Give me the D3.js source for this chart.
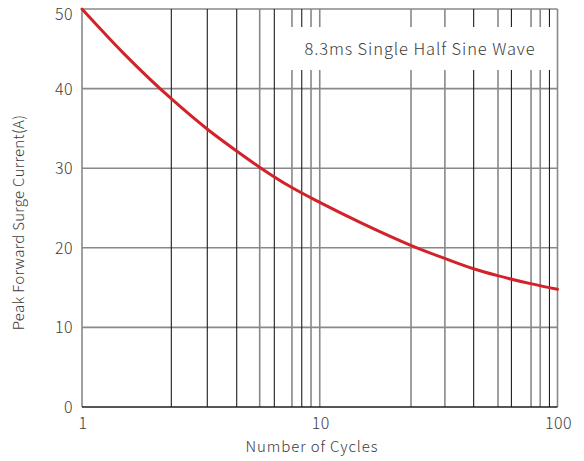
<!DOCTYPE html>
<html>
<head>
<meta charset="utf-8">
<script src="https://cdn.jsdelivr.net/npm/d3@7"></script>
<style>
  html, body { margin: 0; padding: 0; background: #fff; }
  svg { display: block; font-family: "Noto Sans CJK SC", "Noto Sans", sans-serif; }
</style>
</head>
<body>
<svg id="chart" width="584" height="461"></svg>
<script>
// Surge current derating curve (log x axis)
const cycles  = [1, 1.5, 2.4, 3.4, 4.5, 5.6, 7.6, 10, 15, 24, 34, 44, 56, 77, 100];
const current = [50, 44.4, 38.6, 34.8, 32.1, 30.1, 27.6, 25.7, 23.1, 20.35, 18.6, 17.4, 16.5, 15.5, 14.8];

// Vertical grid positions and their stroke tone ("d" dark, "g" gray)
const gridX     = [2.375, 3.365, 4.474, 5.59, 6.44, 7.64, 8.40, 9.19, 10, 24.2, 33.6, 44.4, 56.2, 64.0, 77.4, 84.6, 92.5];
const gridTone  = ["d", "d", "d", "g", "d", "g", "d", "g", "g", "g", "g", "d", "g", "d", "g", "g", "d"];
const yTicks    = [0, 10, 20, 30, 40, 50];
const xTicks    = [1, 10, 100];

const svg = d3.select("#chart");
const plotL = 82, plotR = 557.5, plotT = 9, plotB = 407;

const x = d3.scaleLog().domain([1, 100]).range([plotL, plotR]);
const y = d3.scaleLinear().domain([0, 50]).range([plotB, plotT]);

const dark = "#1e1e1e", gray = "#8a8888", text = "#3c3c3c";

// horizontal grid
svg.append("g").selectAll("line").data(yTicks.filter(d => d > 0)).join("line")
  .attr("x1", plotL).attr("x2", plotR)
  .attr("y1", d => y(d)).attr("y2", d => y(d))
  .attr("stroke", gray).attr("stroke-width", 1.6);

// vertical grid
svg.append("g").selectAll("line").data(gridX).join("line")
  .attr("x1", d => x(d)).attr("x2", d => x(d))
  .attr("y1", plotT).attr("y2", plotB)
  .attr("stroke", (d, i) => gridTone[i] === "d" ? dark : gray)
  .attr("stroke-width", (d, i) => gridTone[i] === "d" ? 1.1 : 1.6);

// frame
svg.append("line").attr("x1", plotR).attr("x2", plotR).attr("y1", plotT).attr("y2", plotB)
  .attr("stroke", gray).attr("stroke-width", 1.6);
svg.append("line").attr("x1", plotL).attr("x2", plotL).attr("y1", plotT).attr("y2", plotB)
  .attr("stroke", gray).attr("stroke-width", 1.6);
svg.append("line").attr("x1", plotL).attr("x2", plotR).attr("y1", plotB).attr("y2", plotB)
  .attr("stroke", dark).attr("stroke-width", 1.4);

// annotation panel
svg.append("rect").attr("x", 289).attr("y", 27).attr("width", 263).attr("height", 43).attr("fill", "#fff");
svg.append("text").attr("x", 420).attr("y", 55).attr("text-anchor", "middle")
  .attr("font-size", 16.5).attr("font-weight", 300).attr("letter-spacing", 0.9).attr("fill", text)
  .text("8.3ms Single Half Sine Wave");

// curve
const line = d3.line().x((d, i) => x(cycles[i])).y(d => y(d)).curve(d3.curveMonotoneX);
svg.append("path").datum(current).attr("d", line)
  .attr("fill", "none").attr("stroke", "#d2222a").attr("stroke-width", 3).attr("stroke-linecap", "round");

// y axis labels (top label nudged down to stay inside the view)
svg.append("g").selectAll("text").data(yTicks).join("text")
  .attr("x", plotL - 9).attr("y", d => d === 50 ? 19.5 : y(d) + 6)
  .attr("text-anchor", "end").attr("font-size", 16).attr("font-weight", 300)
  .attr("letter-spacing", 0.4).attr("fill", text)
  .text(d => d);

// x axis labels
svg.append("g").selectAll("text").data(xTicks).join("text")
  .attr("x", d => x(d) + 1).attr("y", 428.5)
  .attr("text-anchor", "middle").attr("font-size", 16).attr("font-weight", 300)
  .attr("letter-spacing", 0.4).attr("fill", text)
  .text(d => d);

// axis titles
svg.append("text").attr("x", 312).attr("y", 452).attr("text-anchor", "middle")
  .attr("font-size", 15).attr("font-weight", 300).attr("letter-spacing", 0.9).attr("fill", text)
  .text("Number of Cycles");
svg.append("text").attr("transform", "translate(24,222.5) rotate(-90)").attr("text-anchor", "middle")
  .attr("font-size", 15).attr("font-weight", 300).attr("letter-spacing", 0.3).attr("fill", text)
  .text("Peak Forward Surge Current(A)");
</script>
</body>
</html>
